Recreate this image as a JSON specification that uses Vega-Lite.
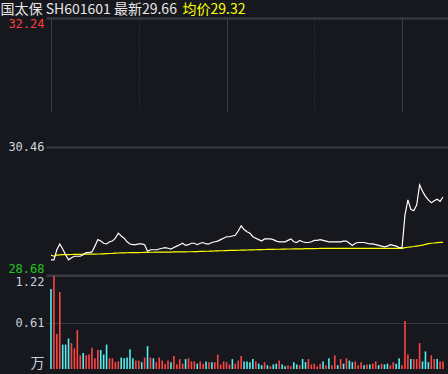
{
 "$schema": "https://vega.github.io/schema/vega-lite/v6.json",
 "width": 402,
 "height": 351,
 "autosize": {"type": "none"},
 "padding": {"left": 46, "top": 18, "right": 0, "bottom": 5},
 "background": "#16181e",
 "config": {
  "view": {"stroke": null},
  "axis": {"labelFont": "DejaVu Sans Mono", "labelFontSize": 12, "ticks": false, "tickSize": 0, "domain": false, "labelPadding": 2, "titleFont": "Noto Sans CJK SC", "titleFontSize": 14, "titleFontWeight": "normal", "titleAngle": 0, "titleBaseline": "alphabetic"}
 },
 "data": {"values": [
  {"t":0,"price":28.89,"avg":28.955,"vol":1.05,"dir":"down"},
  {"t":1,"price":28.89,"avg":28.940,"vol":1.22,"dir":"up"},
  {"t":2,"price":29.03,"avg":28.955,"vol":0.46,"dir":"up"},
  {"t":3,"price":29.11,"avg":28.960,"vol":1.01,"dir":"up"},
  {"t":4,"price":29.04,"avg":28.961,"vol":0.32,"dir":"down"},
  {"t":5,"price":28.96,"avg":28.962,"vol":0.32,"dir":"down"},
  {"t":6,"price":28.89,"avg":28.963,"vol":0.40,"dir":"down"},
  {"t":7,"price":28.92,"avg":28.964,"vol":0.34,"dir":"up"},
  {"t":8,"price":28.94,"avg":28.965,"vol":0.27,"dir":"up"},
  {"t":9,"price":28.94,"avg":28.966,"vol":0.51,"dir":"up"},
  {"t":10,"price":28.94,"avg":28.967,"vol":0.18,"dir":"up"},
  {"t":11,"price":28.96,"avg":28.968,"vol":0.21,"dir":"down"},
  {"t":12,"price":28.99,"avg":28.968,"vol":0.18,"dir":"up"},
  {"t":13,"price":28.99,"avg":28.969,"vol":0.19,"dir":"up"},
  {"t":14,"price":29.00,"avg":28.970,"vol":0.28,"dir":"up"},
  {"t":15,"price":29.08,"avg":28.970,"vol":0.14,"dir":"up"},
  {"t":16,"price":29.17,"avg":28.971,"vol":0.25,"dir":"up"},
  {"t":17,"price":29.15,"avg":28.972,"vol":0.25,"dir":"down"},
  {"t":18,"price":29.12,"avg":28.974,"vol":0.19,"dir":"down"},
  {"t":19,"price":29.11,"avg":28.976,"vol":0.32,"dir":"down"},
  {"t":20,"price":29.14,"avg":28.978,"vol":0.14,"dir":"up"},
  {"t":21,"price":29.15,"avg":28.980,"vol":0.14,"dir":"up"},
  {"t":22,"price":29.19,"avg":28.983,"vol":0.09,"dir":"up"},
  {"t":23,"price":29.26,"avg":28.985,"vol":0.10,"dir":"up"},
  {"t":24,"price":29.22,"avg":28.986,"vol":0.15,"dir":"down"},
  {"t":25,"price":29.19,"avg":28.987,"vol":0.14,"dir":"down"},
  {"t":26,"price":29.14,"avg":28.988,"vol":0.15,"dir":"down"},
  {"t":27,"price":29.11,"avg":28.989,"vol":0.26,"dir":"down"},
  {"t":28,"price":29.10,"avg":28.990,"vol":0.14,"dir":"down"},
  {"t":29,"price":29.10,"avg":28.990,"vol":0.11,"dir":"up"},
  {"t":30,"price":29.11,"avg":28.991,"vol":0.11,"dir":"up"},
  {"t":31,"price":29.11,"avg":28.992,"vol":0.09,"dir":"down"},
  {"t":32,"price":29.10,"avg":28.993,"vol":0.15,"dir":"up"},
  {"t":33,"price":29.01,"avg":28.994,"vol":0.30,"dir":"down"},
  {"t":34,"price":29.03,"avg":28.995,"vol":0.15,"dir":"up"},
  {"t":35,"price":29.03,"avg":28.995,"vol":0.14,"dir":"down"},
  {"t":36,"price":29.03,"avg":28.996,"vol":0.09,"dir":"up"},
  {"t":37,"price":29.04,"avg":28.996,"vol":0.15,"dir":"up"},
  {"t":38,"price":29.05,"avg":28.997,"vol":0.11,"dir":"up"},
  {"t":39,"price":29.06,"avg":28.997,"vol":0.07,"dir":"up"},
  {"t":40,"price":29.05,"avg":28.998,"vol":0.11,"dir":"up"},
  {"t":41,"price":29.04,"avg":28.998,"vol":0.09,"dir":"down"},
  {"t":42,"price":29.06,"avg":28.999,"vol":0.17,"dir":"up"},
  {"t":43,"price":29.08,"avg":28.999,"vol":0.06,"dir":"up"},
  {"t":44,"price":29.10,"avg":29.000,"vol":0.13,"dir":"up"},
  {"t":45,"price":29.12,"avg":29.001,"vol":0.07,"dir":"up"},
  {"t":46,"price":29.09,"avg":29.001,"vol":0.13,"dir":"down"},
  {"t":47,"price":29.10,"avg":29.002,"vol":0.14,"dir":"up"},
  {"t":48,"price":29.12,"avg":29.002,"vol":0.10,"dir":"up"},
  {"t":49,"price":29.12,"avg":29.003,"vol":0.10,"dir":"up"},
  {"t":50,"price":29.10,"avg":29.004,"vol":0.07,"dir":"down"},
  {"t":51,"price":29.12,"avg":29.006,"vol":0.10,"dir":"up"},
  {"t":52,"price":29.13,"avg":29.007,"vol":0.07,"dir":"up"},
  {"t":53,"price":29.11,"avg":29.009,"vol":0.10,"dir":"down"},
  {"t":54,"price":29.11,"avg":29.010,"vol":0.09,"dir":"up"},
  {"t":55,"price":29.13,"avg":29.012,"vol":0.09,"dir":"down"},
  {"t":56,"price":29.14,"avg":29.013,"vol":0.09,"dir":"up"},
  {"t":57,"price":29.15,"avg":29.015,"vol":0.19,"dir":"up"},
  {"t":58,"price":29.17,"avg":29.016,"vol":0.06,"dir":"up"},
  {"t":59,"price":29.19,"avg":29.017,"vol":0.10,"dir":"up"},
  {"t":60,"price":29.21,"avg":29.019,"vol":0.09,"dir":"up"},
  {"t":61,"price":29.21,"avg":29.020,"vol":0.06,"dir":"up"},
  {"t":62,"price":29.22,"avg":29.021,"vol":0.13,"dir":"down"},
  {"t":63,"price":29.23,"avg":29.022,"vol":0.07,"dir":"up"},
  {"t":64,"price":29.29,"avg":29.023,"vol":0.11,"dir":"up"},
  {"t":65,"price":29.36,"avg":29.024,"vol":0.17,"dir":"up"},
  {"t":66,"price":29.31,"avg":29.025,"vol":0.10,"dir":"down"},
  {"t":67,"price":29.28,"avg":29.026,"vol":0.10,"dir":"down"},
  {"t":68,"price":29.26,"avg":29.027,"vol":0.09,"dir":"down"},
  {"t":69,"price":29.21,"avg":29.028,"vol":0.13,"dir":"down"},
  {"t":70,"price":29.19,"avg":29.030,"vol":0.10,"dir":"up"},
  {"t":71,"price":29.17,"avg":29.031,"vol":0.07,"dir":"down"},
  {"t":72,"price":29.15,"avg":29.032,"vol":0.05,"dir":"down"},
  {"t":73,"price":29.18,"avg":29.033,"vol":0.09,"dir":"up"},
  {"t":74,"price":29.18,"avg":29.034,"vol":0.05,"dir":"down"},
  {"t":75,"price":29.18,"avg":29.035,"vol":0.035,"dir":"up"},
  {"t":76,"price":29.17,"avg":29.036,"vol":0.06,"dir":"down"},
  {"t":77,"price":29.15,"avg":29.037,"vol":0.07,"dir":"down"},
  {"t":78,"price":29.14,"avg":29.037,"vol":0.11,"dir":"up"},
  {"t":79,"price":29.14,"avg":29.038,"vol":0.06,"dir":"down"},
  {"t":80,"price":29.14,"avg":29.039,"vol":0.035,"dir":"down"},
  {"t":81,"price":29.16,"avg":29.040,"vol":0.05,"dir":"up"},
  {"t":82,"price":29.18,"avg":29.040,"vol":0.035,"dir":"up"},
  {"t":83,"price":29.14,"avg":29.041,"vol":0.09,"dir":"down"},
  {"t":84,"price":29.13,"avg":29.042,"vol":0.06,"dir":"down"},
  {"t":85,"price":29.16,"avg":29.043,"vol":0.05,"dir":"up"},
  {"t":86,"price":29.14,"avg":29.043,"vol":0.13,"dir":"down"},
  {"t":87,"price":29.13,"avg":29.044,"vol":0.09,"dir":"down"},
  {"t":88,"price":29.13,"avg":29.045,"vol":0.13,"dir":"up"},
  {"t":89,"price":29.14,"avg":29.046,"vol":0.06,"dir":"up"},
  {"t":90,"price":29.16,"avg":29.046,"vol":0.07,"dir":"up"},
  {"t":91,"price":29.16,"avg":29.047,"vol":0.035,"dir":"up"},
  {"t":92,"price":29.17,"avg":29.048,"vol":0.07,"dir":"up"},
  {"t":93,"price":29.16,"avg":29.049,"vol":0.10,"dir":"down"},
  {"t":94,"price":29.15,"avg":29.049,"vol":0.05,"dir":"up"},
  {"t":95,"price":29.14,"avg":29.050,"vol":0.14,"dir":"down"},
  {"t":96,"price":29.14,"avg":29.050,"vol":0.05,"dir":"up"},
  {"t":97,"price":29.14,"avg":29.050,"vol":0.18,"dir":"up"},
  {"t":98,"price":29.14,"avg":29.050,"vol":0.05,"dir":"down"},
  {"t":99,"price":29.14,"avg":29.050,"vol":0.13,"dir":"up"},
  {"t":100,"price":29.15,"avg":29.050,"vol":0.07,"dir":"down"},
  {"t":101,"price":29.15,"avg":29.050,"vol":0.14,"dir":"up"},
  {"t":102,"price":29.12,"avg":29.050,"vol":0.11,"dir":"down"},
  {"t":103,"price":29.09,"avg":29.050,"vol":0.09,"dir":"down"},
  {"t":104,"price":29.12,"avg":29.050,"vol":0.10,"dir":"up"},
  {"t":105,"price":29.13,"avg":29.050,"vol":0.05,"dir":"up"},
  {"t":106,"price":29.13,"avg":29.050,"vol":0.09,"dir":"up"},
  {"t":107,"price":29.13,"avg":29.050,"vol":0.05,"dir":"down"},
  {"t":108,"price":29.12,"avg":29.050,"vol":0.06,"dir":"up"},
  {"t":109,"price":29.11,"avg":29.050,"vol":0.06,"dir":"down"},
  {"t":110,"price":29.11,"avg":29.050,"vol":0.07,"dir":"up"},
  {"t":111,"price":29.10,"avg":29.050,"vol":0.10,"dir":"up"},
  {"t":112,"price":29.09,"avg":29.050,"vol":0.05,"dir":"down"},
  {"t":113,"price":29.08,"avg":29.050,"vol":0.07,"dir":"up"},
  {"t":114,"price":29.07,"avg":29.050,"vol":0.06,"dir":"down"},
  {"t":115,"price":29.08,"avg":29.050,"vol":0.07,"dir":"down"},
  {"t":116,"price":29.10,"avg":29.050,"vol":0.05,"dir":"up"},
  {"t":117,"price":29.09,"avg":29.050,"vol":0.09,"dir":"up"},
  {"t":118,"price":29.08,"avg":29.050,"vol":0.07,"dir":"down"},
  {"t":119,"price":29.06,"avg":29.050,"vol":0.14,"dir":"down"},
  {"t":120,"price":29.06,"avg":29.050,"vol":0.05,"dir":"up"},
  {"t":121,"price":29.51,"avg":29.058,"vol":0.63,"dir":"up"},
  {"t":122,"price":29.72,"avg":29.064,"vol":0.19,"dir":"up"},
  {"t":123,"price":29.59,"avg":29.070,"vol":0.13,"dir":"down"},
  {"t":124,"price":29.57,"avg":29.075,"vol":0.13,"dir":"up"},
  {"t":125,"price":29.65,"avg":29.081,"vol":0.13,"dir":"up"},
  {"t":126,"price":29.93,"avg":29.086,"vol":0.34,"dir":"up"},
  {"t":127,"price":29.84,"avg":29.095,"vol":0.10,"dir":"down"},
  {"t":128,"price":29.77,"avg":29.105,"vol":0.23,"dir":"down"},
  {"t":129,"price":29.72,"avg":29.114,"vol":0.09,"dir":"down"},
  {"t":130,"price":29.68,"avg":29.120,"vol":0.18,"dir":"up"},
  {"t":131,"price":29.71,"avg":29.123,"vol":0.13,"dir":"up"},
  {"t":132,"price":29.73,"avg":29.128,"vol":0.13,"dir":"down"},
  {"t":133,"price":29.70,"avg":29.131,"vol":0.10,"dir":"up"},
  {"t":134,"price":29.76,"avg":29.133,"vol":0.10,"dir":"up"}
 ]},
 "encoding": {
  "x": {"field": "t", "type": "quantitative",
   "scale": {"domain": [0, 134], "nice": false, "zero": false},
   "axis": {"values": [0, 30, 60, 90, 120], "labels": false, "title": null, "grid": true, "gridColor": "#3a3d44", "gridWidth": 1,
    "gridDash": {"condition": {"test": "datum.value % 60 === 30", "value": [1, 2]}, "value": []}}}
 },
 "layer": [
  {
   "mark": {"type": "bar", "width": 1.6, "clip": true},
   "encoding": {
    "y": {"field": "vol", "type": "quantitative",
     "scale": {"domain": [0, 1.22], "range": [351, 258], "nice": false, "zero": true},
     "axis": {"orient": "left", "values": [0.61, 1.22], "format": ".2f", "labelFlush": true, "labelColor": "#c8d0dc", "grid": true, "gridColor": "#34373e", "gridWidth": 1,
      "title": "万", "titleX": -2, "titleY": 349.5, "titleAlign": "right", "titleColor": "#c8d0dc"}},
    "color": {"field": "dir", "type": "nominal", "scale": {"domain": ["up", "down"], "range": ["#ff4444", "#52f0f0"]}, "legend": null}
   }
  },
  {
   "mark": {"type": "line", "color": "#ffff00", "strokeWidth": 1.2},
   "encoding": {
    "y": {"field": "avg", "type": "quantitative",
     "scale": {"domain": [28.68, 32.24], "range": [257, 0], "nice": false, "zero": false},
     "axis": {"orient": "left", "labels": false, "grid": false, "title": "均价29.32", "titleX": 136, "titleY": -4.5, "titleAlign": "left", "titleColor": "#ffff00"}}
   }
  },
  {
   "mark": {"type": "line", "color": "#ffffff", "strokeWidth": 1.2},
   "encoding": {
    "y": {"field": "price", "type": "quantitative",
     "scale": {"domain": [28.68, 32.24], "range": [257, 0], "nice": false, "zero": false},
     "axis": {"orient": "left", "values": [28.68, 30.46, 32.24], "format": ".2f", "labelFlush": true, "grid": true, "gridColor": "#3a3d44", "gridWidth": 2,
      "labelColor": {"condition": [{"test": "datum.value > 31", "value": "#ff3a3a"}, {"test": "datum.value < 30", "value": "#20c820"}], "value": "#d0d4dc"},
      "title": "国太保 SH601601 最新29.66", "titleX": -46, "titleY": -4.5, "titleAlign": "left", "titleColor": "#e6e6e6"}}
   }
  }
 ],
 "resolve": {"scale": {"y": "independent"}, "axis": {"y": "independent"}}
}
